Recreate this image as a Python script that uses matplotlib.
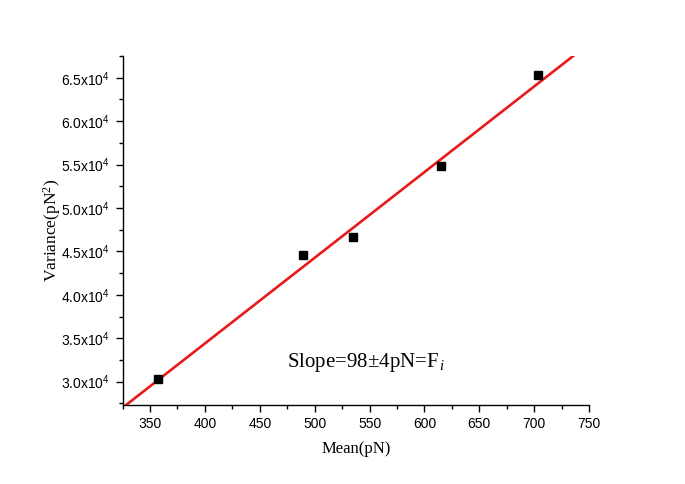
import numpy as np
import matplotlib
matplotlib.use("Agg")
import matplotlib.pyplot as plt
from matplotlib.ticker import MultipleLocator, FuncFormatter

# data
mean_pn = [357, 489, 535, 615, 703]
variance = [30350, 44540, 46620, 54810, 65270]
fit_slope = 98.7
fit_intercept = -5083
xlim = (325, 750)
ylim = (27350, 67550)

plt.rcParams['mathtext.fontset'] = 'custom'
plt.rcParams['mathtext.rm'] = 'Liberation Serif'
plt.rcParams['mathtext.it'] = 'Liberation Serif:italic'

fig = plt.figure(figsize=(6.85, 4.84), dpi=100)
ax = fig.add_axes([0.179, 0.164, 0.681, 0.721])

xs = np.array(xlim)
ax.plot(xs, fit_slope * xs + fit_intercept, color='#e8191b', lw=1.9, zorder=2)
ax.plot(mean_pn, variance, 's', color='black', ms=5.8, zorder=3)

ax.set_xlim(*xlim)
ax.set_ylim(*ylim)
ax.spines['top'].set_visible(False)
ax.spines['right'].set_visible(False)
for s in ['left', 'bottom']:
    ax.spines[s].set_linewidth(1.0)

ax.xaxis.set_major_locator(MultipleLocator(50))
ax.xaxis.set_minor_locator(MultipleLocator(25))
ax.yaxis.set_major_locator(MultipleLocator(5000))
ax.yaxis.set_minor_locator(MultipleLocator(2500))

def yfmt(v, pos):
    return '%.1fx10$\\mathregular{^4}$' % (v / 1e4)

ax.yaxis.set_major_formatter(FuncFormatter(yfmt))
ax.tick_params(which='major', direction='out', length=5, width=1.0, pad=4)
ax.tick_params(which='minor', direction='out', length=3, width=1.0)
for lab in ax.get_xticklabels() + ax.get_yticklabels():
    lab.set_family('Liberation Sans')
    lab.set_fontsize(10)

ax.set_xlabel('Mean(pN)', family='Liberation Serif', fontsize=12, labelpad=7)
ax.set_ylabel('Variance(pN$\\mathregular{^2}$)', family='Liberation Serif', fontsize=12.5, labelpad=-1)

ax.text(475, 31650, 'Slope=98\u00b14pN=F$_{\\,i}$', family='Liberation Serif',
        fontsize=15, ha='left', va='baseline')

fig.savefig('out.png', dpi=100)
